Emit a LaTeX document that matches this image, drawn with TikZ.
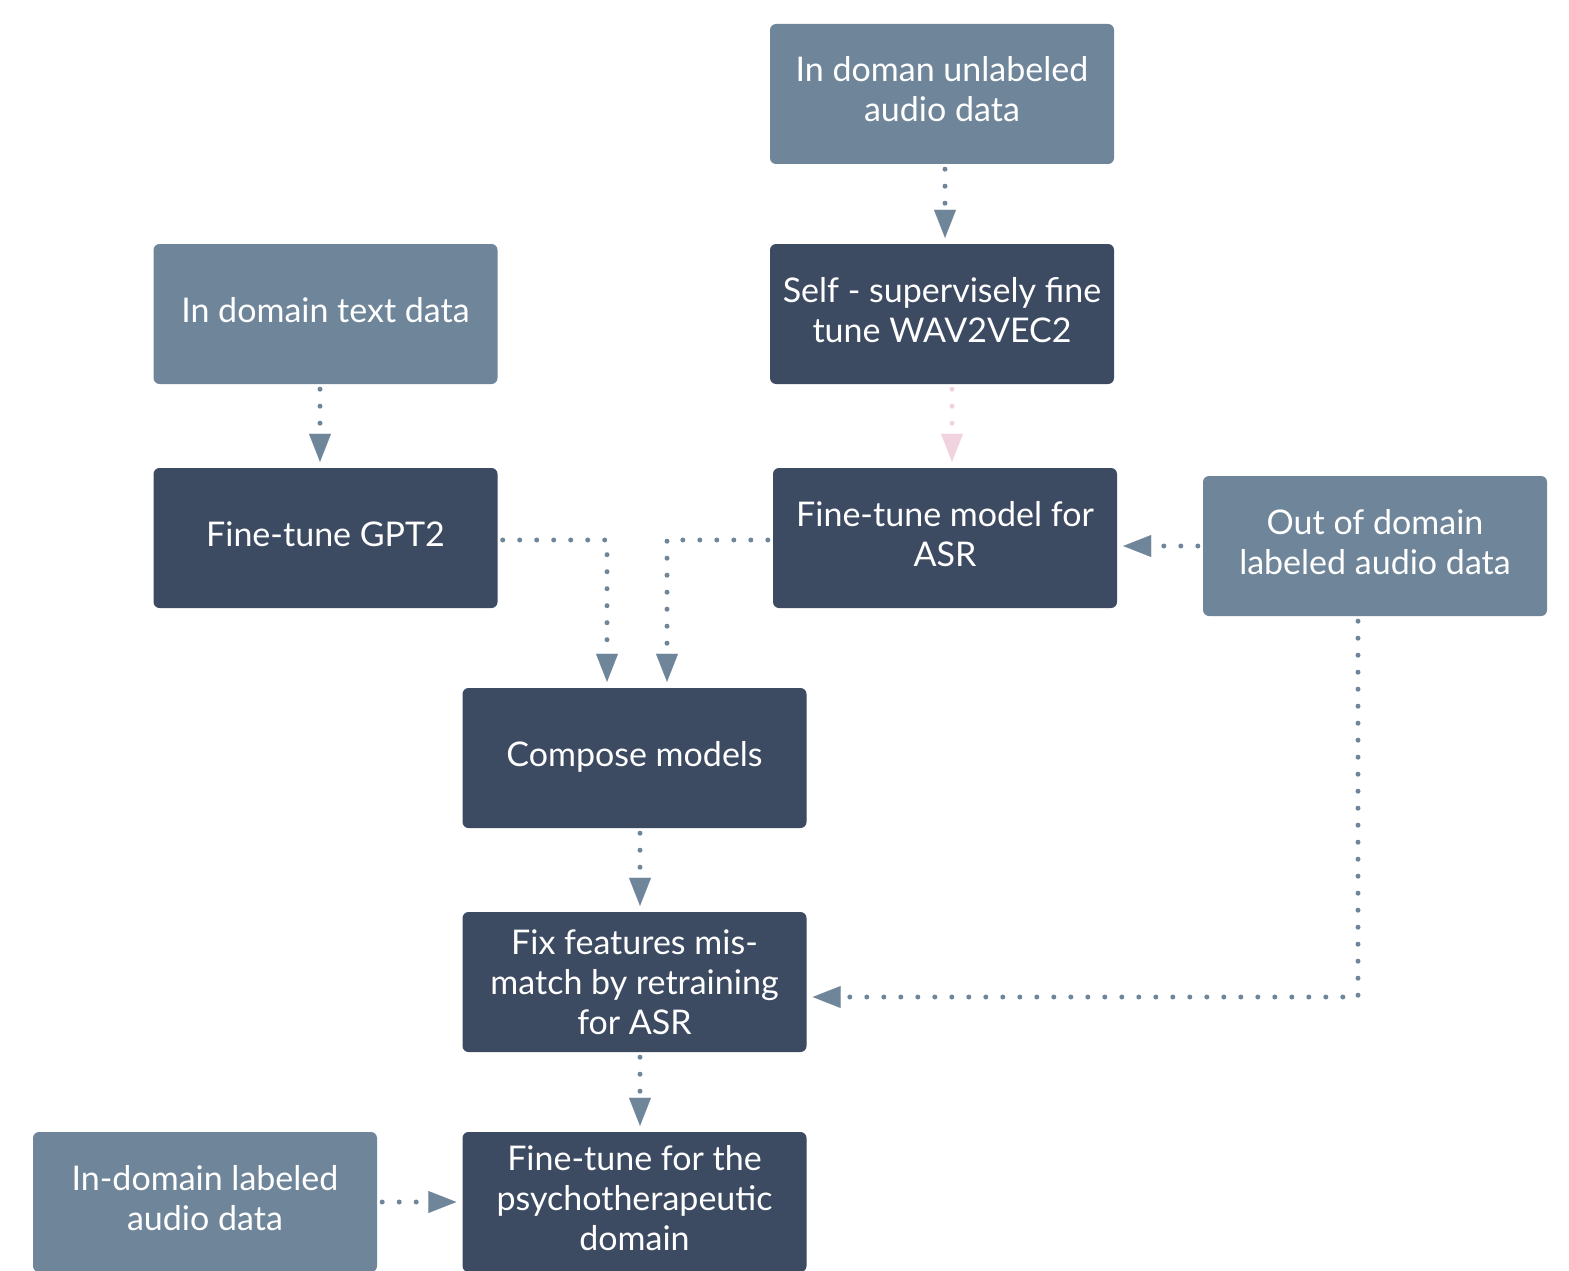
\documentclass[tikz,border=0pt]{standalone}
\usepackage{fontspec}
\setmainfont{Lato}
\usetikzlibrary{arrows.meta,calc}
\definecolor{lightbox}{HTML}{6F8599}
\definecolor{darkbox}{HTML}{3C4A62}
\definecolor{pinkflow}{HTML}{F0D3DE}
\newcommand{\liftup}[2]{\raisebox{#1}{\begin{tabular}{@{}c@{}}#2\end{tabular}}}
\tikzset{
  boxbase/.style={rectangle, rounded corners=6pt, minimum width=344pt, minimum height=140pt,
    inner sep=0pt, text=white, align=center, font=\fontsize{34}{40}\selectfont},
  lightnode/.style={boxbase, fill=lightbox},
  darknode/.style={boxbase, fill=darkbox},
  flow/.style={draw=lightbox, line width=5pt, line cap=round, dash pattern=on 0pt off 17pt,
    -{Triangle[length=28pt,width=22pt,line width=0.1pt,fill=lightbox]},
    shorten <=5pt, shorten >=6pt},
  pinkline/.style={flow, draw=pinkflow, -{Triangle[length=28pt,width=22pt,line width=0.1pt,fill=pinkflow]}}
}
\begin{document}
\begin{tikzpicture}[x=1pt,y=-1pt]
\useasboundingbox (0,0) rectangle (1569,1271);
\node[lightnode] (A) at (942,94) {\liftup{2pt}{In doman unlabeled\\audio data}};
\node[darknode] (B) at (942,314) {\liftup{7pt}{Self - supervisely fine\\tune WAV2VEC2}};
\node[lightnode] (C) at (325.5,314) {\liftup{3pt}{In domain text data}};
\node[darknode] (D) at (325.5,538) {\liftup{2pt}{Fine-tune GPT2}};
\node[darknode] (E) at (945,538) {\liftup{5pt}{Fine-tune model for\\ASR}};
\node[lightnode] (F) at (1375,546) {\liftup{11pt}{Out of domain\\labeled audio data}};
\node[darknode] (G) at (634.5,758) {\liftup{2pt}{Compose models}};
\node[darknode] (H) at (634.5,982) {Fix features mis-\\match by retraining\\for ASR};
\node[darknode] (I) at (634.5,1202) {\liftup{2pt}{Fine-tune for the\\psychotherapeutic\\domain}};
\node[lightnode] (J) at (205,1202) {\liftup{2pt}{In-domain labeled\\audio data}};

\draw[flow] ([xshift=3pt]A.south) -- ([xshift=3pt]B.north);
\draw[pinkline] ([xshift=10pt]B.south) -- ([xshift=7pt]E.north);
\draw[flow] ([xshift=-5.5pt]C.south) -- ([xshift=-5.5pt]D.north);
\draw[flow] ([yshift=-2pt]D.east) -| ([xshift=-27.5pt]G.north);
\draw[flow] ([yshift=-2pt]E.west) -| ([xshift=32.5pt]G.north);
\draw[flow] (F.west) -- (E.east |- F.west);
\draw[flow] ([xshift=-17pt]F.south) |- ([yshift=-15pt]H.east);
\draw[flow] ([xshift=5.5pt]G.south) -- ([xshift=5.5pt]H.north);
\draw[flow] ([xshift=5.5pt]H.south) -- ([xshift=5.5pt]I.north);
\draw[flow] (J.east) -- (I.west);
\end{tikzpicture}
\end{document}
